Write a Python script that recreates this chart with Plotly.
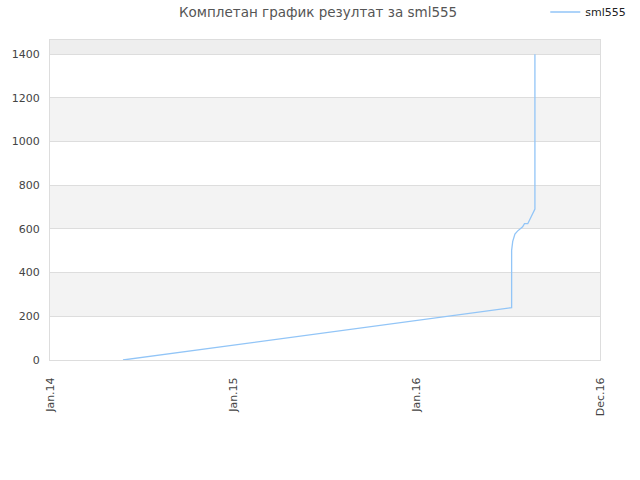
import plotly.graph_objects as go

# x positions in tick units (0 = Jan.14, 1 = Jan.15, 2 = Jan.16, 3 = Dec.16)
x_pos = [0.398, 2.518, 2.518, 2.524, 2.536, 2.550, 2.578, 2.588, 2.606, 2.645, 2.645]
scores = [0, 240, 502, 543, 577, 590, 610, 624, 624, 691, 1400]

x_ticks = [0, 1, 2, 3]
x_labels = ["Jan.14", "Jan.15", "Jan.16", "Dec.16"]
y_ticks = [0, 200, 400, 600, 800, 1000, 1200, 1400]
y_top = 1465

fig = go.Figure()
fig.add_trace(go.Scatter(
    x=x_pos, y=scores, mode="lines", name="sml555",
    line=dict(color="#92c5f7", width=1.3),
))

# alternating background bands
shapes = []
for i in range(1, len(y_ticks) - 1, 2):
    shapes.append(dict(type="rect", xref="paper", yref="y", x0=0, x1=1,
                       y0=y_ticks[i], y1=y_ticks[i + 1],
                       fillcolor="#f3f3f3", line_width=0, layer="below"))
shapes.append(dict(type="rect", xref="paper", yref="y", x0=0, x1=1,
                   y0=y_ticks[-1], y1=y_top,
                   fillcolor="#eeeeee", line_width=0, layer="below"))

fig.update_layout(
    width=640, height=480,
    margin=dict(l=50, r=40, t=40, b=120, autoexpand=False),
    paper_bgcolor="white", plot_bgcolor="white",
    font=dict(family="DejaVu Sans", size=11, color="#444"),
    title=dict(text="Комплетан график резултат за sml555", x=0.497, y=0.975,
               xanchor="center", yanchor="middle", font=dict(size=13.5, color="#555")),
    showlegend=True,
    legend=dict(xref="container", yref="container", x=0.852, y=0.975,
                xanchor="left", yanchor="middle", itemwidth=30,
                bgcolor="rgba(0,0,0,0)", font=dict(size=11, color="#222")),
    shapes=shapes,
    xaxis=dict(range=[0, 3], tickvals=x_ticks, ticktext=x_labels, tickangle=-90,
               showgrid=False, zeroline=False, showline=True, linecolor="#dddddd",
               mirror=True, ticks="", ticklabelstandoff=12, automargin=False,
               fixedrange=True),
    yaxis=dict(range=[0, y_top], tickvals=y_ticks, showgrid=True, gridcolor="#dddddd",
               zeroline=False, showline=True, linecolor="#dddddd", mirror=True,
               ticks="", ticklabelstandoff=7, automargin=False, fixedrange=True),
)

# drop the page's default body margin so the figure sits at the window corner
fig.write_html("out.html", config={"displayModeBar": False},
               post_script="document.body.style.margin='0';")
